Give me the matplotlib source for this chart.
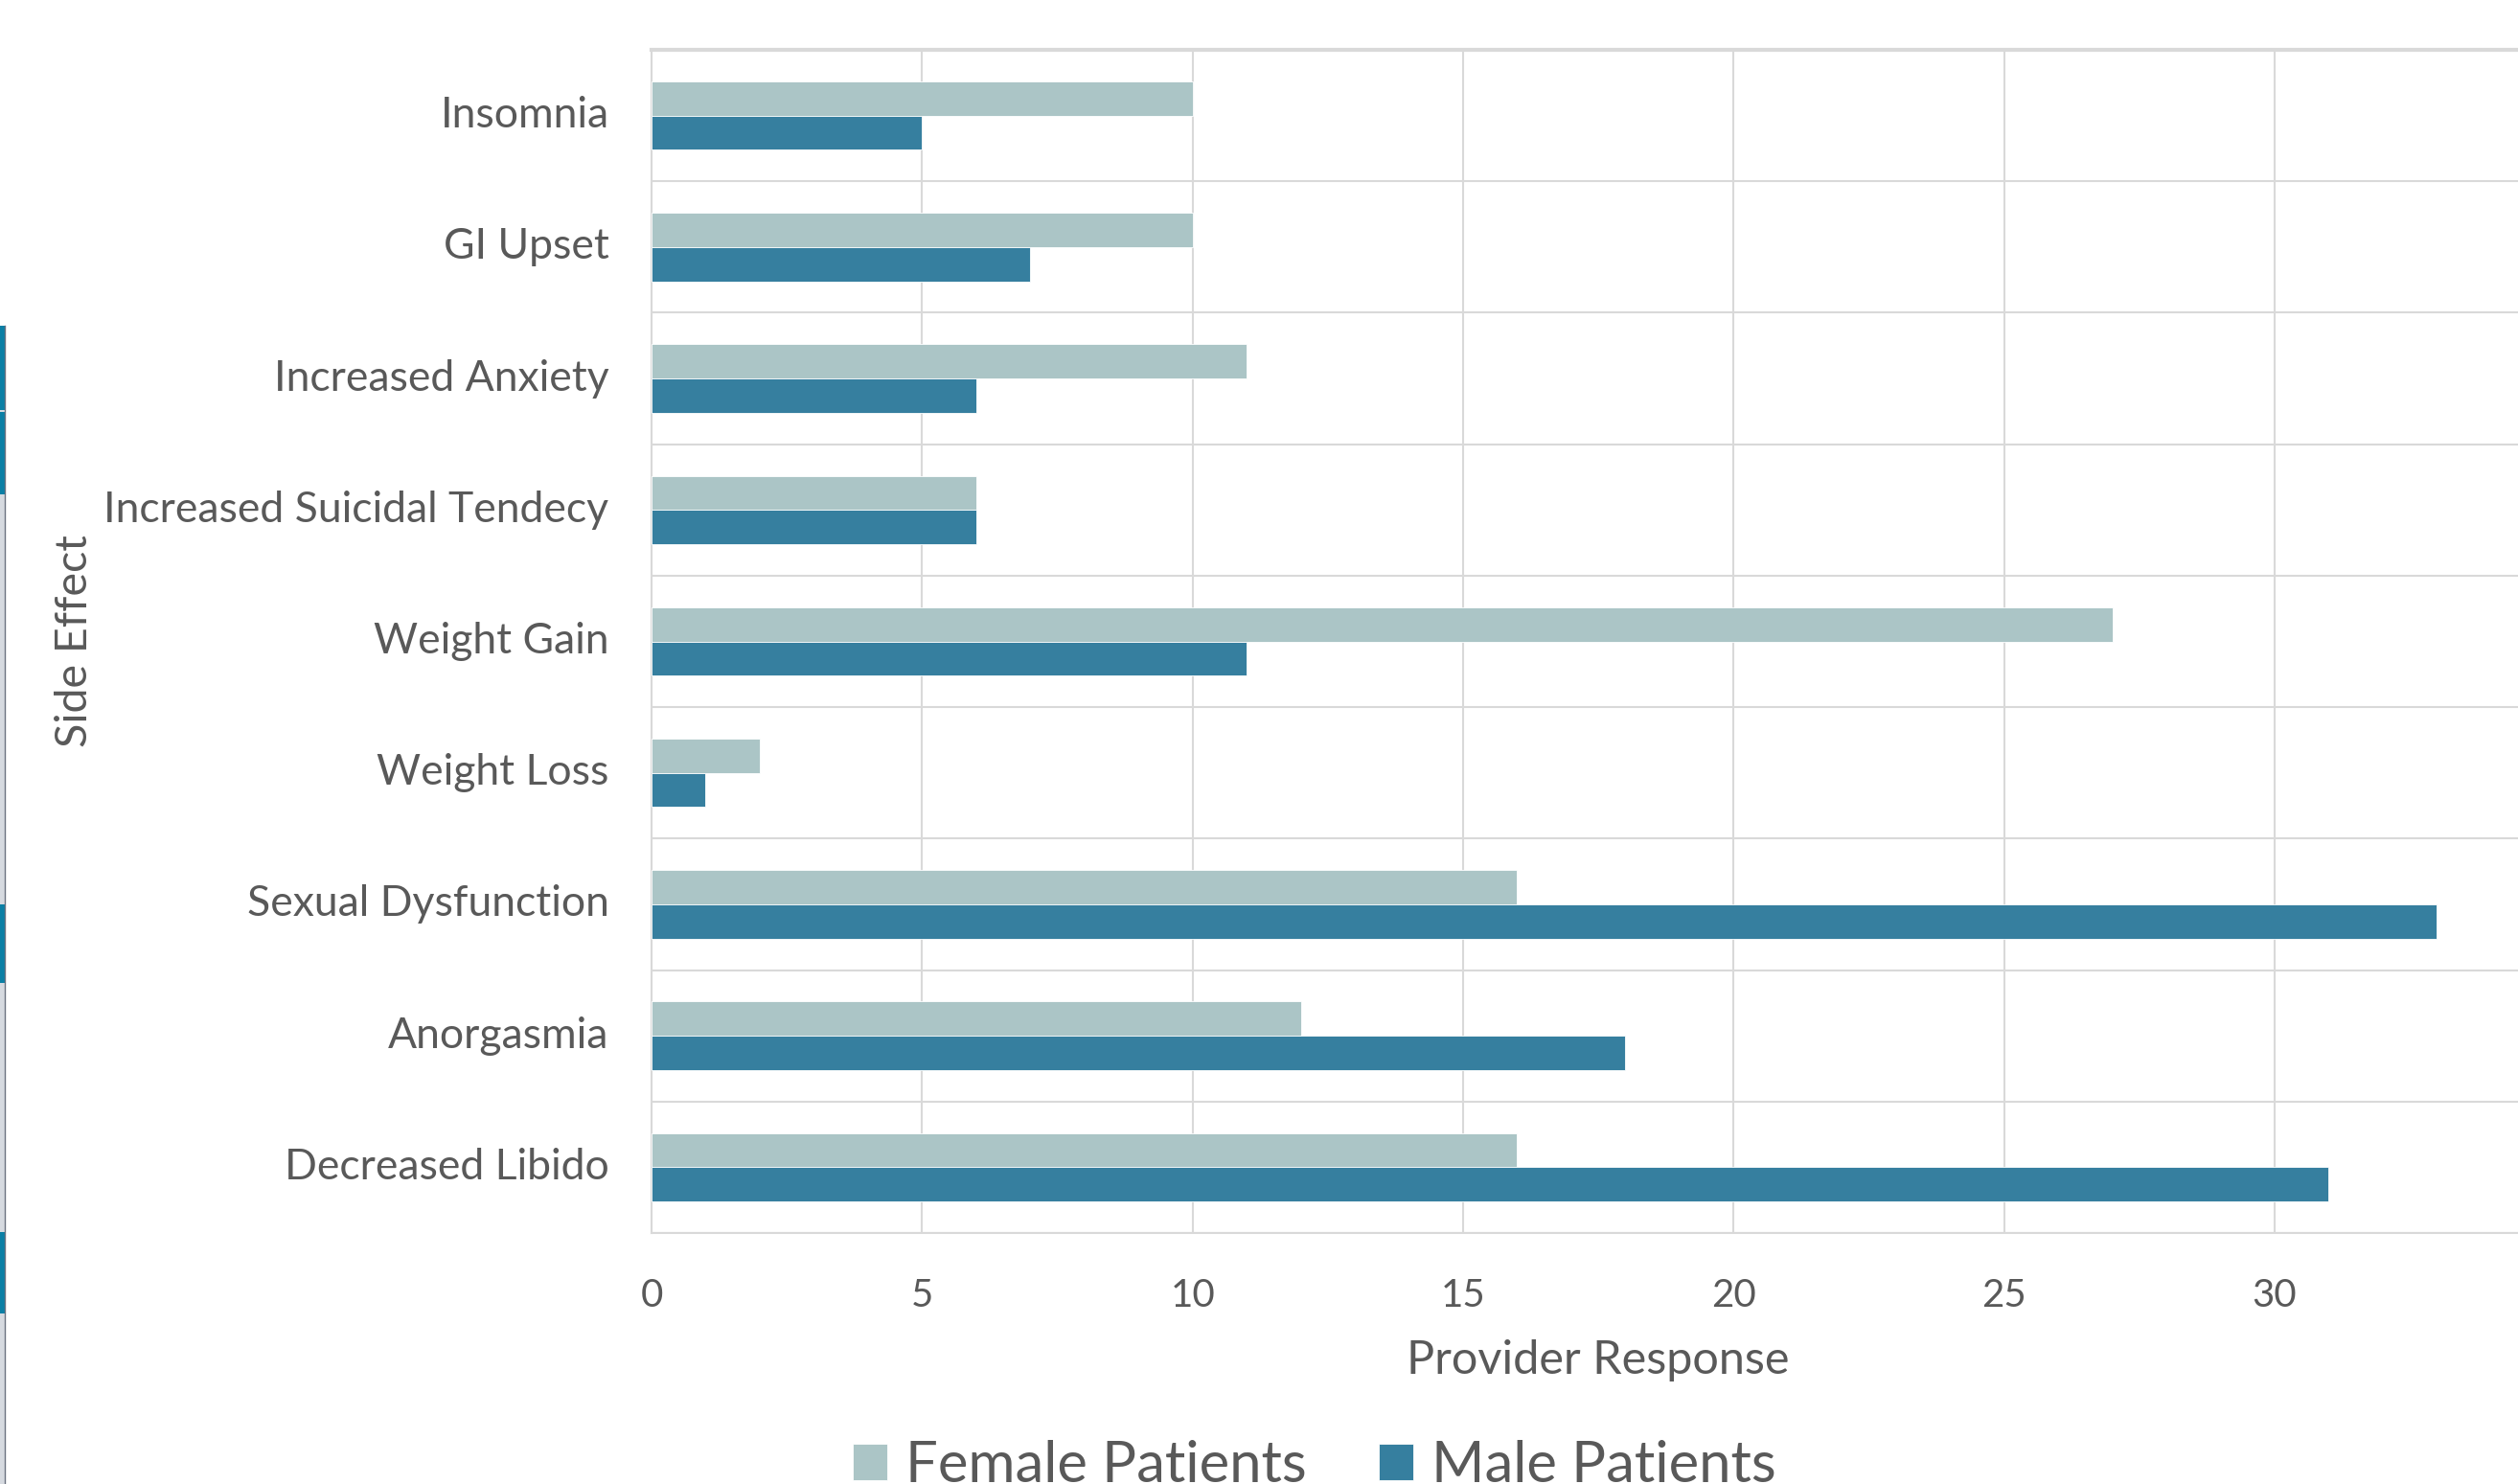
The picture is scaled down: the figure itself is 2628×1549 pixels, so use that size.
import matplotlib
matplotlib.use("Agg")
import matplotlib.pyplot as plt
import matplotlib.patches as mpatches
import numpy as np

plt.rcParams["font.family"] = ["Lato", "DejaVu Sans"]

side_effects = [
    "Insomnia",
    "GI Upset",
    "Increased Anxiety",
    "Increased Suicidal Tendecy",
    "Weight Gain",
    "Weight Loss",
    "Sexual Dysfunction",
    "Anorgasmia",
    "Decreased Libido",
]
female_patients = [10, 10, 11, 6, 27, 2, 16, 12, 16]
male_patients = [5, 7, 6, 6, 11, 1, 33, 18, 31]
x_ticks = [0, 5, 10, 15, 20, 25, 30]

TEXT = "#595959"
GRID = "#d9d9d9"
FEMALE = "#abc5c6"
MALE = "#367f9f"

W, H = 2628, 1549
fig = plt.figure(figsize=(W / 100, H / 100), dpi=100)
fig.patch.set_facecolor("white")

ax_left, ax_right = 680 / W, 1.0
ax_top, ax_bottom = 1 - 52 / H, 1 - 1287 / H
ax = fig.add_axes([ax_left, ax_bottom, ax_right - ax_left, ax_top - ax_bottom])

y = np.arange(len(side_effects))
bar_h = 0.26
ax.barh(y - bar_h / 2, female_patients, height=bar_h, color=FEMALE,
        edgecolor="white", linewidth=0.6, label="Female Patients", zorder=3)
ax.barh(y + bar_h / 2, male_patients, height=bar_h, color=MALE,
        edgecolor="white", linewidth=0.6, label="Male Patients", zorder=3)

ax.set_xlim(0, 34.5)
ax.set_ylim(len(side_effects) - 0.5, -0.5)

ax.set_xticks(x_ticks)
ax.set_xticklabels([str(t) for t in x_ticks])
ax.set_yticks(y)
ax.set_yticklabels(side_effects, va="center")
ax.set_yticks(np.arange(len(side_effects) + 1) - 0.5, minor=True)

ax.tick_params(axis="both", which="both", length=0, colors=TEXT)
ax.tick_params(axis="y", labelsize=32, pad=32)
ax.tick_params(axis="x", labelsize=29, pad=34)

ax.grid(axis="x", which="major", color=GRID, linewidth=1.5, zorder=0)
ax.grid(axis="y", which="minor", color=GRID, linewidth=1.5, zorder=0)
ax.grid(axis="y", which="major", visible=False)

for side in ["left", "bottom"]:
    ax.spines[side].set_color(GRID)
    ax.spines[side].set_linewidth(1.5)
ax.spines["top"].set_color(GRID)
ax.spines["top"].set_linewidth(3)
ax.spines["right"].set_visible(False)

ax.set_xlabel("Provider Response", fontsize=35, color=TEXT, va="center")
ax.set_ylabel("Side Effect", fontsize=33.5, color=TEXT, va="center")
ax.yaxis.set_label_coords((78 - 680) / (W - 680), 0.5)
ax.xaxis.set_label_coords((1668 - 680) / (W - 680), (1287 - 1420) / (1287 - 52))

fig.legend(
    loc="center",
    bbox_to_anchor=(1372 / W, 1 - 1530 / H),
    ncol=2,
    frameon=False,
    fontsize=43,
    labelcolor=TEXT,
    handlelength=0.6,
    handleheight=0.6,
    handletextpad=0.33,
    columnspacing=1.25,
)

# thin window strip along the left edge
strip_w = 5 / W
fig.patches.append(mpatches.Rectangle((0, 0), strip_w, 1 - 340 / H,
                                      transform=fig.transFigure,
                                      facecolor="#d6dae0", edgecolor="none"))
for y0, y1 in [(340, 428), (430, 516), (944, 1026), (1286, 1371)]:
    fig.patches.append(mpatches.Rectangle((0, 1 - y1 / H), strip_w, (y1 - y0) / H,
                                          transform=fig.transFigure,
                                          facecolor="#0a7fa5", edgecolor="none"))
fig.add_artist(plt.Line2D([strip_w, strip_w], [0, 1 - 340 / H],
                          transform=fig.transFigure, color="#6b7280", linewidth=1))

fig.savefig("out.png", dpi=100, facecolor="white")
